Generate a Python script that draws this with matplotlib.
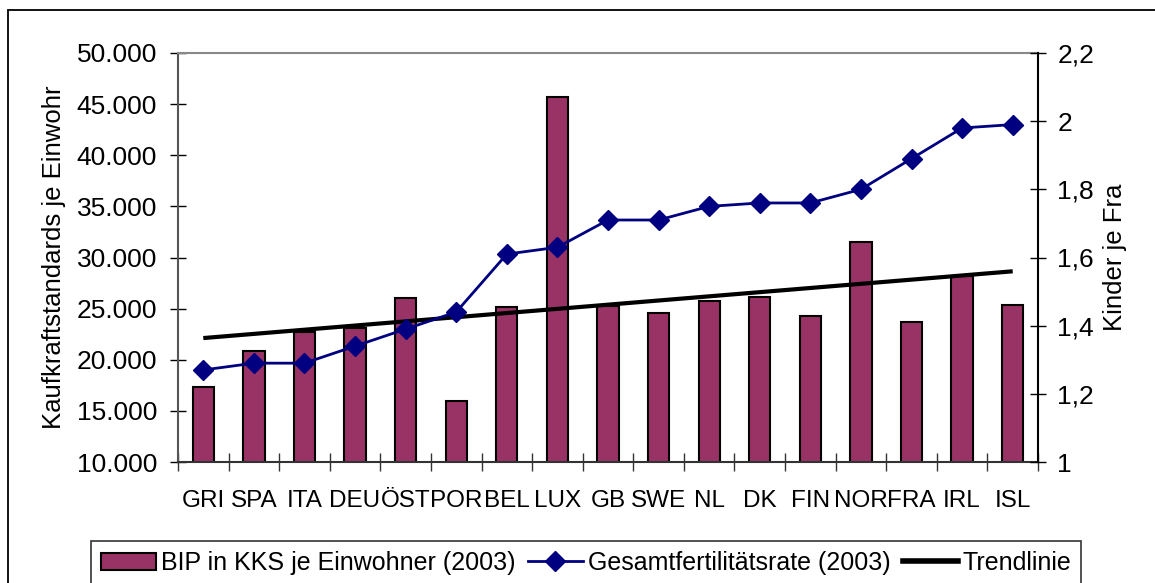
import numpy as np
import matplotlib
matplotlib.use("Agg")
import matplotlib.pyplot as plt
from matplotlib.lines import Line2D
from matplotlib.patches import Patch, Rectangle
from matplotlib.ticker import FixedLocator

plt.rcParams['font.family'] = ['Liberation Sans', 'DejaVu Sans']

countries = ["GRI", "SPA", "ITA", "DEU", "ÖST", "POR", "BEL", "LUX", "GB", "SWE",
             "NL", "DK", "FIN", "NOR", "FRA", "IRL", "ISL"]
bip_kks = [17300, 20860, 22700, 23140, 26070, 15980, 25150, 45740, 25220, 24570,
           25740, 26130, 24270, 31490, 23660, 28150, 25390]
fertility = [1.27, 1.29, 1.29, 1.34, 1.39, 1.44, 1.61, 1.63, 1.71, 1.71,
             1.75, 1.76, 1.76, 1.80, 1.89, 1.98, 1.99]
left_ticks = [10000, 15000, 20000, 25000, 30000, 35000, 40000, 45000, 50000]
left_ticklabels = ["10.000", "15.000", "20.000", "25.000", "30.000", "35.000",
                   "40.000", "45.000", "50.000"]
right_ticks = [1.0, 1.2, 1.4, 1.6, 1.8, 2.0, 2.2]
right_ticklabels = ["1", "1,2", "1,4", "1,6", "1,8", "2", "2,2"]

W, H = 1155, 583
fig = plt.figure(figsize=(W / 100, H / 100), dpi=100)
fig.patch.set_facecolor("white")

# outer chart border (extends beyond right and bottom edges)
fig.patches.append(Rectangle((8 / W, -0.1), 1.2, 1 - 10 / H + 0.1,
                             transform=fig.transFigure, fill=False,
                             edgecolor="black", linewidth=1.3))

L, R, T, B = 178, 1038, 53, 462
ax = fig.add_axes([L / W, 1 - B / H, (R - L) / W, (B - T) / H])
x = np.arange(len(countries))

bar_color = "#993366"
ax.bar(x, bip_kks, width=0.42, color=bar_color, edgecolor="black",
       linewidth=1.5, zorder=2)

# linear trendline of bar series
coef = np.polyfit(x, bip_kks, 1)
trend = np.polyval(coef, x[[0, -1]])
ax.plot(x[[0, -1]], trend, color="black", linewidth=3.0, zorder=3,
        solid_capstyle="butt")

ax.set_xlim(-0.5, len(countries) - 0.5)
ax.set_ylim(10000, 50000)
ax.set_yticks(left_ticks)
ax.set_yticklabels(left_ticklabels)
ax.set_xticks(x)
ax.set_xticklabels(countries)
ax.xaxis.set_minor_locator(FixedLocator(np.arange(-0.5, len(countries), 1.0)))
ax.tick_params(axis="x", which="major", length=0, pad=20, labelsize=17.5)
ax.tick_params(axis="x", which="minor", direction="inout", length=13,
               width=1, color="#333333")
ax.tick_params(axis="y", direction="inout", length=12, width=1, pad=9,
               labelsize=19)
ax.set_ylabel("Kaufkraftstandards je Einwohr", fontsize=18.5, labelpad=8)

ax.spines["top"].set_color("#888888")
ax.spines["top"].set_linewidth(1.5)
ax.spines["left"].set_color("#555555")
ax.spines["left"].set_linewidth(1.5)
ax.spines["bottom"].set_color("#333333")
ax.spines["bottom"].set_linewidth(1.5)
ax.spines["right"].set_visible(False)

ax2 = ax.twinx()
ax2.plot(x, fertility, color="#000080", linewidth=2.0, marker="D",
         markersize=10, markerfacecolor="#000080", markeredgecolor="#000080",
         zorder=4)
ax2.set_ylim(1.0, 2.2)
ax2.set_yticks(right_ticks)
ax2.set_yticklabels(right_ticklabels)
ax2.tick_params(axis="y", direction="inout", length=12, width=1, pad=8,
                labelsize=19)
ax2.set_ylabel("Kinder je Fra", fontsize=18.5, labelpad=6)
for s in ["top", "left", "bottom"]:
    ax2.spines[s].set_visible(False)
ax2.spines["right"].set_color("black")
ax2.spines["right"].set_linewidth(1.5)

handles = [
    Patch(facecolor=bar_color, edgecolor="black", linewidth=1.5),
    Line2D([], [], color="#000080", linewidth=2.0, marker="D", markersize=10),
    Line2D([], [], color="black", linewidth=4),
]
labels = ["BIP in KKS je Einwohner (2003)", "Gesamtfertilitätsrate (2003)",
          "Trendlinie"]
leg = fig.legend(handles, labels, loc="upper center",
                 bbox_to_anchor=(586 / W, 1 - 541 / H), ncol=3, fontsize=18,
                 frameon=True, fancybox=False, edgecolor="black",
                 handlelength=2.2, handletextpad=0.2, columnspacing=0.5,
                 borderpad=0.4, borderaxespad=0)
leg.get_frame().set_linewidth(1.2)

fig.savefig("out.png", dpi=100, facecolor="white")
